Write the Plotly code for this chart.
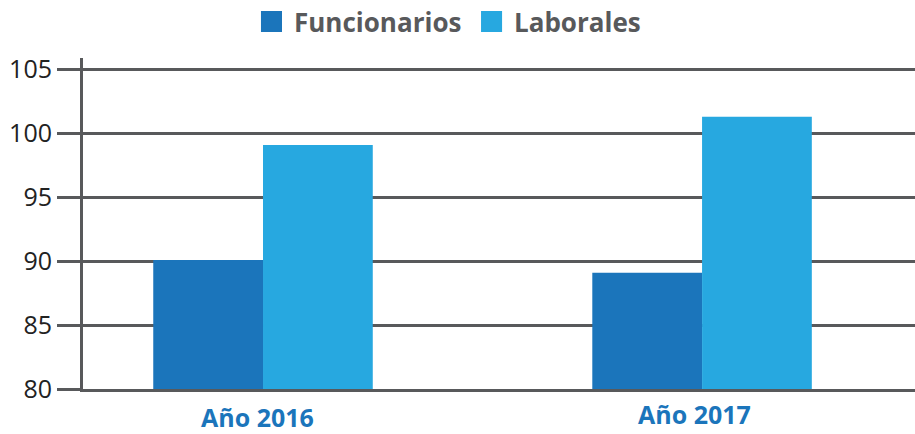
import plotly.graph_objects as go

# values
years = ["Año 2016", "Año 2017"]
series = ["Funcionarios", "Laborales"]
funcionarios = [90.1, 89.1]
laborales = [99.1, 101.3]
y_ticks = [80, 85, 90, 95, 100, 105]

colors = ["#1b75bb", "#27a8e0"]
grid = "#58595b"

fig = go.Figure()
fig.add_trace(go.Bar(x=years, y=funcionarios, name=series[0], showlegend=False,
                     marker=dict(color=colors[0], line_width=0)))
fig.add_trace(go.Bar(x=years, y=laborales, name=series[1], showlegend=False,
                     marker=dict(color=colors[1], line_width=0)))

# year labels under each pair (second one sits a little higher)
label_dx = [-6, -8]
label_dy = [-28, -25]
for yr, dx, dy in zip(years, label_dx, label_dy):
    fig.add_annotation(x=yr, y=0, yref="paper", text="<b>%s</b>" % yr,
                       showarrow=False, xshift=dx, yshift=dy, yanchor="middle",
                       borderpad=0,
                       font=dict(family="Open Sans", size=25, color=colors[0]))

# legend drawn by hand so the swatches can be large squares
sw_x = [0.2139, 0.4784]
for name, col, x0 in zip(series, colors, sw_x):
    fig.add_shape(type="rect", xref="paper", yref="paper",
                  x0=x0, x1=x0 + 0.0253, y0=1.0785, y1=1.142,
                  fillcolor=col, line_width=0)
    fig.add_annotation(xref="paper", yref="paper", x=x0 + 0.0373, y=1.110,
                       xanchor="left", yanchor="middle", showarrow=False,
                       text="<b>%s</b>" % name,
                       font=dict(family="Open Sans", size=26, color="#58595b"))

fig.update_layout(
    width=915, height=434,
    margin=dict(l=83, r=0, t=58, b=45, autoexpand=False),
    plot_bgcolor="white", paper_bgcolor="white",
    barmode="group", bargap=0.5, bargroupgap=0,
    font=dict(family="Open Sans", color="#222222"),
    showlegend=False,
)
fig.update_xaxes(range=[-0.41, 1.485], showticklabels=False, ticks="",
                 showline=True, linecolor=grid, linewidth=3, showgrid=False,
                 automargin=False)
fig.update_yaxes(range=[80, 105.9], tickvals=y_ticks, showgrid=True,
                 gridcolor=grid, gridwidth=3, ticks="outside", ticklen=23,
                 tickcolor=grid, tickwidth=3, showline=True, linecolor=grid,
                 linewidth=3, zeroline=False, automargin=False,
                 tickfont=dict(size=25, color="#222222"))

# drop the default page margin so the figure fills the window
fig.write_html("out.html", config={"displayModeBar": False},
               post_script="document.body.style.margin='0';")
